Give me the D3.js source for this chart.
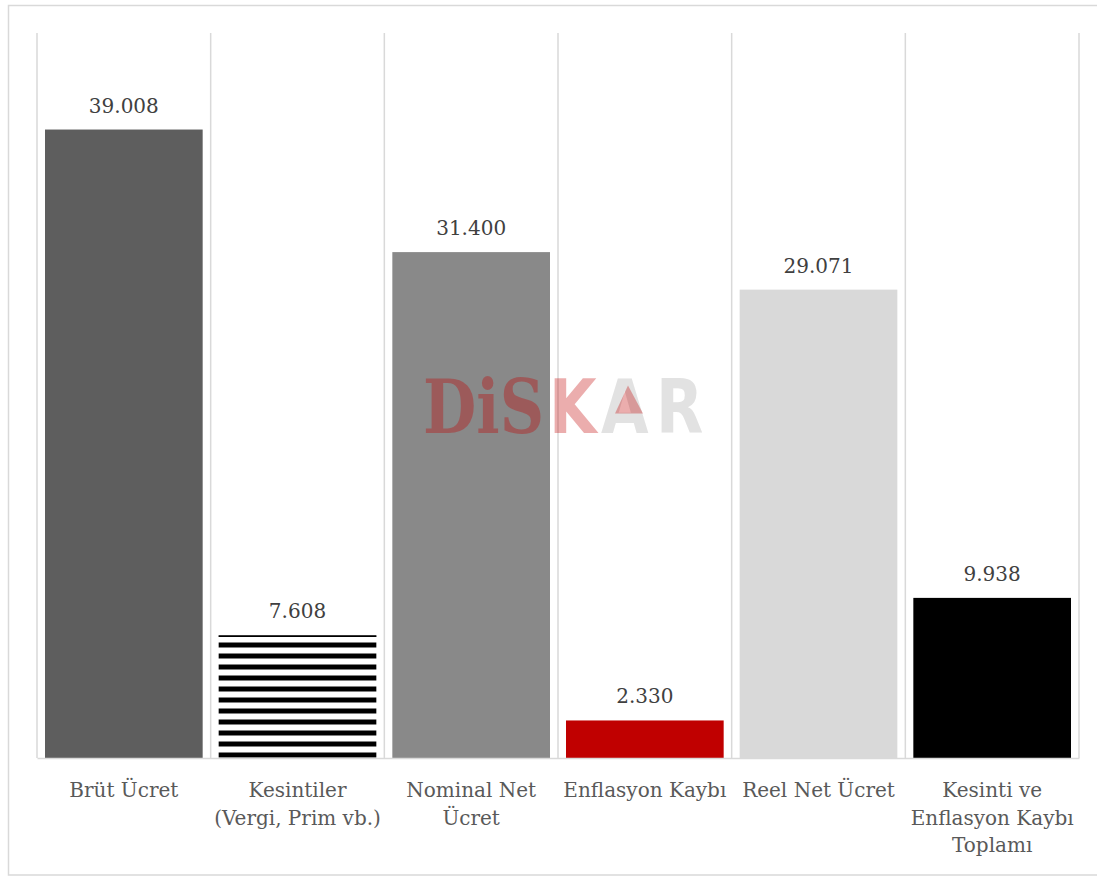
<!DOCTYPE html>
<html>
<head>
<meta charset="utf-8">
<script src="https://cdn.jsdelivr.net/npm/d3@7"></script>
<style>
    body { margin: 0; background: #fff; }
    svg { display: block; }
</style>
</head>
<body>
<svg id="chart" width="1097" height="876"></svg>
<script>
'use strict';

// chart data
const categories = ['brut', 'kesinti', 'nominal', 'enflasyon', 'reel', 'toplam'];
const categoryLabels = [
    ['Brüt Ücret'],
    ['Kesintiler', '(Vergi, Prim vb.)'],
    ['Nominal Net', 'Ücret'],
    ['Enflasyon Kaybı'],
    ['Reel Net Ücret'],
    ['Kesinti ve', 'Enflasyon Kaybı', 'Toplamı']
];
const values = [39008, 7608, 31400, 2330, 29071, 9938];
const barFills = ['#5e5e5e', 'url(#stripes)', '#898989', '#c00000', '#d9d9d9', '#000000'];

const WIDTH = 1097;
const HEIGHT = 876;
const PLOT_LEFT = 37;
const PLOT_RIGHT = 1079;
const PLOT_TOP = 33;
const PLOT_BOTTOM = 758;
const Y_MAX = 45000;
const BAR_INSET = 8;
const LABEL_GAP = 17;
const LINE_HEIGHT = 27.5;
const GRID_COLOR = '#d9d9d9';
const FONT = '"DejaVu Serif", serif';

const svg = d3.select('#chart');

const trLocale = d3.formatLocale({decimal: ',', thousands: '.', grouping: [3], currency: ['', ' ₺']});
const fmt = trLocale.format(',d');

const x = d3.scaleBand()
    .domain(categories)
    .range([PLOT_LEFT, PLOT_RIGHT])
    .paddingInner(0)
    .paddingOuter(0);

const y = d3.scaleLinear()
    .domain([0, Y_MAX])
    .range([PLOT_BOTTOM, PLOT_TOP]);

// outer frame
svg.append('rect')
    .attr('x', 8.5)
    .attr('y', 5.5)
    .attr('width', WIDTH)
    .attr('height', HEIGHT - 6.5)
    .attr('fill', '#fff')
    .attr('stroke', GRID_COLOR)
    .attr('stroke-width', 1.5);

// striped pattern for the deductions bar
const defs = svg.append('defs');
const pattern = defs.append('pattern')
    .attr('id', 'stripes')
    .attr('patternUnits', 'userSpaceOnUse')
    .attr('x', 0)
    .attr('y', y(0) - 5.5)
    .attr('width', 20)
    .attr('height', 11);
pattern.append('rect').attr('width', 20).attr('height', 11).attr('fill', '#fff');
pattern.append('rect').attr('width', 20).attr('height', 5).attr('fill', '#000');

// vertical gridlines at category boundaries
const bounds = categories.map(c => x(c)).concat([x.range()[1]]);
svg.append('g')
    .selectAll('line')
    .data(bounds)
    .enter()
    .append('line')
    .attr('x1', d => d)
    .attr('x2', d => d)
    .attr('y1', PLOT_TOP)
    .attr('y2', y(0))
    .attr('stroke', GRID_COLOR)
    .attr('stroke-width', 1.5);

// bars
const data = categories.map((c, i) => ({key: c, value: values[i], fill: barFills[i]}));

svg.append('g')
    .selectAll('.bar')
    .data(data)
    .enter()
    .append('rect')
    .attr('class', 'bar')
    .attr('x', d => x(d.key) + BAR_INSET)
    .attr('y', d => y(d.value))
    .attr('width', x.bandwidth() - BAR_INSET * 2)
    .attr('height', d => y(0) - y(d.value))
    .attr('fill', d => d.fill);

// thin top edge on the striped bar
svg.append('g')
    .selectAll('line')
    .data(data.filter(d => d.fill.startsWith('url')))
    .enter()
    .append('line')
    .attr('x1', d => x(d.key) + BAR_INSET)
    .attr('x2', d => x(d.key) + x.bandwidth() - BAR_INSET)
    .attr('y1', d => y(d.value) + 0.75)
    .attr('y2', d => y(d.value) + 0.75)
    .attr('stroke', '#000')
    .attr('stroke-width', 1.5);

// value labels
svg.append('g')
    .selectAll('text')
    .data(data)
    .enter()
    .append('text')
    .attr('x', d => x(d.key) + x.bandwidth() / 2)
    .attr('y', d => y(d.value) - LABEL_GAP)
    .attr('text-anchor', 'middle')
    .attr('font-family', FONT)
    .attr('font-size', 20)
    .attr('fill', '#404040')
    .text(d => fmt(d.value));

// x axis (baseline + category labels)
const xAxis = d3.axisBottom(x)
    .tickSize(0)
    .tickSizeOuter(0)
    .tickFormat('');

const gX = svg.append('g')
    .attr('class', 'axis axis--x')
    .attr('transform', 'translate(0,' + y(0) + ')')
    .call(xAxis);

gX.select('.domain')
    .attr('stroke', GRID_COLOR)
    .attr('stroke-width', 1.5);

gX.selectAll('.tick').each(function (d, i) {
    const t = d3.select(this).select('text')
        .attr('y', 0)
        .attr('dy', null)
        .attr('font-family', FONT)
        .attr('font-size', 20)
        .attr('fill', '#595959');
    categoryLabels[i].forEach((line, j) => {
        t.append('tspan')
            .attr('x', 0)
            .attr('y', 39 + j * LINE_HEIGHT)
            .text(line);
    });
});

// watermark, one text element squeezed horizontally
const WM_SCALE = 0.82;
const cx = (PLOT_LEFT + PLOT_RIGHT) / 2 + 2;
const cy = (PLOT_TOP + PLOT_BOTTOM) / 2 + 10;
const wm = svg.append('g')
    .attr('transform', 'translate(' + cx + ',' + cy + ')');

const wmText = wm.append('text')
    .attr('transform', 'scale(' + WM_SCALE + ',1)')
    .attr('y', 27)
    .attr('font-weight', 'bold')
    .attr('font-size', 75);

wmText.append('tspan')
    .attr('x', -137 / WM_SCALE)
    .attr('font-family', '"DejaVu Serif", serif')
    .attr('fill', '#c00000')
    .attr('fill-opacity', 0.34)
    .text('DiS');

wmText.append('tspan')
    .attr('x', -11 / WM_SCALE)
    .attr('font-family', '"DejaVu Sans", sans-serif')
    .attr('fill', '#c00000')
    .attr('fill-opacity', 0.32)
    .text('K');

wmText.append('tspan')
    .attr('x', 41 / WM_SCALE)
    .attr('font-family', '"DejaVu Sans", sans-serif')
    .attr('fill', '#e2e2e2')
    .text('A');

wmText.append('tspan')
    .attr('x', 96 / WM_SCALE)
    .attr('font-family', '"DejaVu Sans", sans-serif')
    .attr('fill', '#e2e2e2')
    .text('R');

// red triangle in the counter of the A
wm.append('path')
    .attr('d', 'M68,-20L55,8L83,8Z')
    .attr('fill', '#c00000')
    .attr('fill-opacity', 0.32);
</script>
</body>
</html>
